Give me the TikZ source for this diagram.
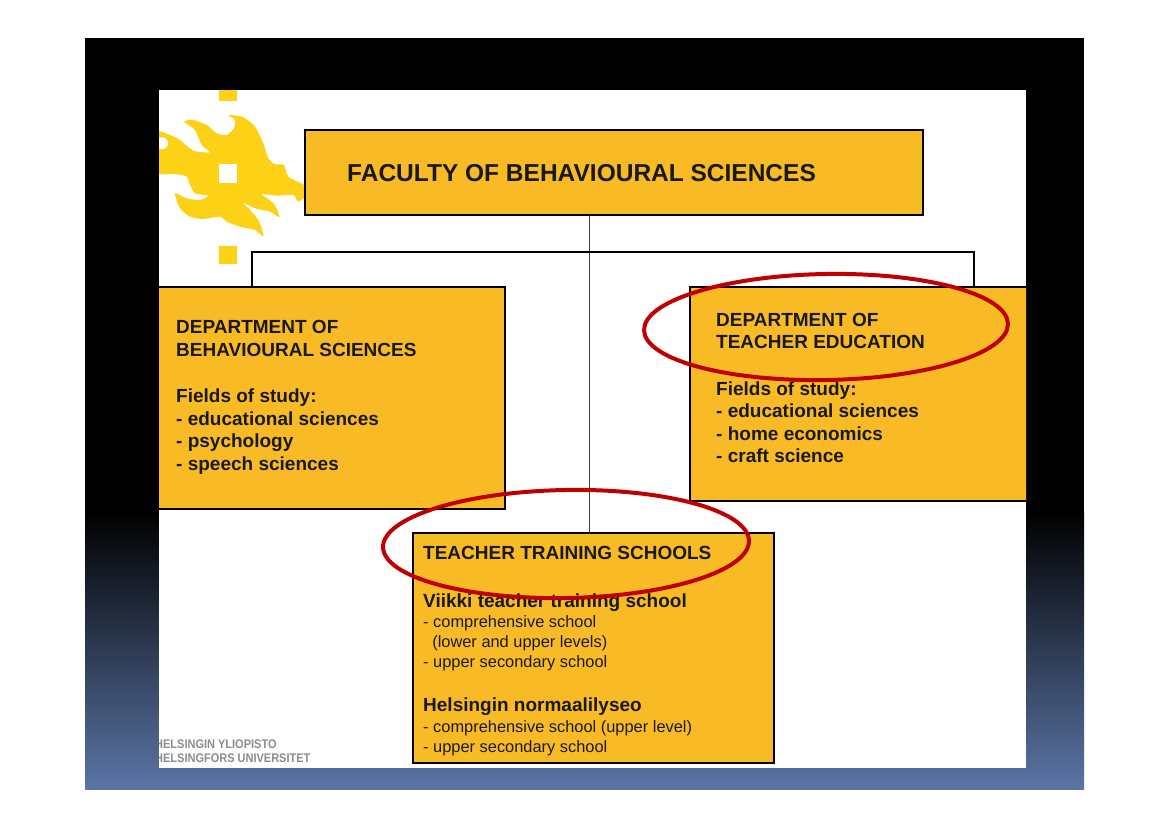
\documentclass[tikz,border=0pt]{standalone}
\usepackage{fontspec}
\setmainfont{Liberation Sans}
\usepackage{tikz}
\usetikzlibrary{positioning}

\definecolor{boxorange}{HTML}{F8BB26}
\definecolor{flameyellow}{HTML}{FCD116}
\definecolor{ringred}{HTML}{C00000}
\definecolor{slateblue}{HTML}{5B75A6}
\definecolor{logogray}{HTML}{8C8C8C}

\begin{document}
\begin{tikzpicture}[x=1pt, y=-1pt]
  \tikzstyle{orgbox}=[draw=black, line width=2pt, fill=boxorange, outer sep=0pt, inner sep=0pt, anchor=north west]
  \tikzstyle{boxtext}=[anchor=north west, align=left, inner sep=0pt, text=black!90]
  \tikzstyle{headtext}=[boxtext, font=\fontsize{19}{22.5}\selectfont\bfseries]
  \tikzstyle{listtext}=[boxtext, font=\fontsize{16.4}{20}\selectfont]
  \tikzstyle{logotext}=[anchor=north west, align=left, inner sep=0pt, text=logogray, xscale=0.88]
  \tikzstyle{link}=[draw=black, line width=1.1pt]
  \tikzstyle{ring}=[draw=ringred, line width=4pt]

  \useasboundingbox (0,0) rectangle (1169,827);
  \fill[black] (85,38) rectangle (1084,512);
  \shade[top color=black, bottom color=slateblue] (85,511) rectangle (1084,789);
  \fill[white] (159,90) rectangle (1026,768);

  \begin{scope}
    \clip (159,90) rectangle (1026,768);

    \begin{scope}[shift={(80pt,-30pt)}, x=0.3333pt, y=-0.3333pt]
      \fill[flameyellow] plot[smooth cycle, tension=0.4] coordinates {
        (225,308) (262,312) (300,330) (340,362) (390,367) (365,345) (345,300) (312,275)
        (340,270) (380,285) (410,310) (440,315) (462,295) (465,270) (445,255) (490,262)
        (525,290) (550,340) (565,385) (585,403) (612,405) (625,440) (672,465) (685,490)
        (655,515) (640,495) (590,497) (545,492) (575,515) (590,535) (598,562) (570,545)
        (525,535) (490,518) (510,540) (535,570) (545,595) (550,620) (525,600) (480,590)
        (440,575) (420,560) (370,567) (330,560) (300,535) (285,490) (320,505) (360,510)
        (385,497) (345,490) (330,465) (320,440) (285,432) (225,425)};
      \fill[white] (246,340) circle [radius=18];
      \fill[flameyellow] (417,180) rectangle (470,213);
      \fill[white] (417,403) rectangle (470,458);
      \fill[flameyellow] (417,648) rectangle (470,702);
    \end{scope}

    \coordinate (trunk)    at (589,215);
    \coordinate (busleft)  at (252,252);
    \coordinate (busright) at (974,252);

    \node[orgbox, minimum width=618pt, minimum height=85pt] (faculty) at (305,130) {};
    \node[orgbox, minimum width=350pt, minimum height=222pt] (behav) at (155,287) {};
    \node[orgbox, minimum width=340pt, minimum height=214pt] (teached) at (690,287) {};
    \node[orgbox, minimum width=361pt, minimum height=230pt] (schools) at (413,533) {};

    \draw[link, line width=1pt, draw=black!75] (trunk) -- (trunk |- schools.north);
    \draw[link] (busleft |- behav.north) -- (busleft) -- (busright) -- (busright |- teached.north);

    \node[boxtext, font=\fontsize{24.5}{28}\selectfont\bfseries] (facultytext) at (347,164) {FACULTY OF BEHAVIOURAL SCIENCES};
    \node[headtext] (behavtext) at (176,320.5) {DEPARTMENT OF\\BEHAVIOURAL SCIENCES\\[24pt]Fields of study:\\- educational sciences\\- psychology\\- speech sciences};
    \node[headtext] (teachedtext) at (716,313) {DEPARTMENT OF\\TEACHER EDUCATION\\[24pt]Fields of study:\\- educational sciences\\- home economics\\- craft science};
    \node[headtext] (schoolstitle) at (423,546) {TEACHER TRAINING SCHOOLS};
    \node[headtext] (viikkititle) at (423,593.5) {Viikki teacher training school};
    \node[listtext] (viikkitext) at (423,615) {- comprehensive school\\\ \ (lower and upper levels)\\- upper secondary school};
    \node[headtext] (normaltitle) at (423,698) {Helsingin normaalilyseo};
    \node[listtext] (normaltext) at (423,720.5) {- comprehensive school (upper level)\\- upper secondary school};
    \node[logotext, font=\fontsize{12.5}{14}\selectfont\bfseries] (logotitle) at (155,740) {HELSINGIN YLIOPISTO\\HELSINGFORS UNIVERSITET};

    \draw[ring, rotate around={1:(826,327)}] (826,327) ellipse [x radius=182, y radius=53];
    \draw[ring, rotate around={1:(566,544)}] (566,544) ellipse [x radius=183, y radius=54];
  \end{scope}
\end{tikzpicture}
\end{document}
